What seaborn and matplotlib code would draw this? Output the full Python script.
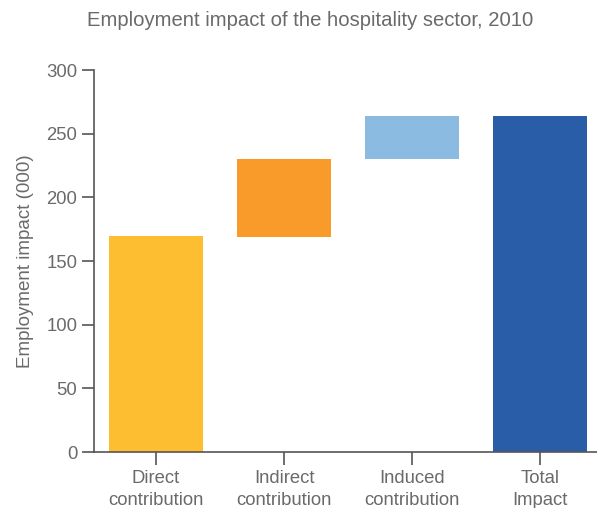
import matplotlib
matplotlib.use('Agg')
import matplotlib.pyplot as plt
import seaborn as sns
import pandas as pd

# Waterfall values (thousands of jobs)
categories = ['Direct\ncontribution', 'Indirect\ncontribution', 'Induced\ncontribution', 'Total\nImpact']
bar_start = [0, 169, 230, 0]
bar_end = [170, 230, 264, 264]
colors = ['#FDBF31', '#F89B2A', '#8BBBE0', '#2A5DA8']

df = pd.DataFrame({'category': categories, 'start': bar_start, 'end': bar_end})
df['height'] = df['end'] - df['start']

sns.set_style('white')
plt.rcParams['font.family'] = ['Liberation Sans', 'DejaVu Sans']
text_col = '#6a6a6a'

fig = plt.figure(figsize=(5.97, 5.08), dpi=100)
ax = fig.add_axes([0.1575, 0.110, 0.8425, 0.752])

# floating bars: one call, bottoms taken from the start column
sns.barplot(data=df, x='category', y='height', bottom=df['start'].values,
            width=0.73, ax=ax, saturation=1, color=colors[0])
for patch, c in zip(ax.patches, colors):
    patch.set_facecolor(c)
    patch.set_edgecolor('none')

ax.set_ylim(0, 300)
ax.set_xlim(-0.484, 3.445)
ax.set_yticks([0, 50, 100, 150, 200, 250, 300])

for side in ['top', 'right']:
    ax.spines[side].set_visible(False)
for side in ['left', 'bottom']:
    ax.spines[side].set_color('#555555')
    ax.spines[side].set_linewidth(1.2)

ax.tick_params(axis='both', which='both', length=9, width=1.2, color='#555555',
               labelcolor=text_col, labelsize=13.3, left=True, bottom=True)
ax.tick_params(axis='x', pad=4)
ax.tick_params(axis='y', pad=3)
ax.set_xlabel('')
ax.set_ylabel('Employment impact (000)', fontsize=13.5, color=text_col, labelpad=9)
for lbl in ax.get_xticklabels():
    lbl.set_linespacing(1.35)

fig.text(0.52, 0.96, 'Employment impact of the hospitality sector, 2010',
         ha='center', va='center', fontsize=14.6, color=text_col)

fig.savefig('out.png', dpi=100)
